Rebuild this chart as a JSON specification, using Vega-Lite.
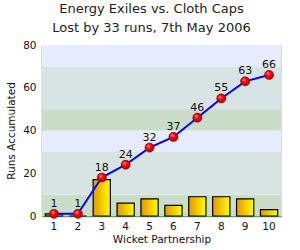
{
  "$schema": "https://vega.github.io/schema/vega-lite/v6.json",
  "width": 300,
  "height": 250,
  "autosize": {"type": "fit", "contains": "padding"},
  "padding": {"left": 6, "right": 19, "top": 3, "bottom": 5},
  "background": "white",
  "title": {
    "text": "Energy Exiles vs. Cloth Caps",
    "subtitle": "Lost by 33 runs, 7th May 2006",
    "font": "DejaVu Sans",
    "fontSize": 13,
    "fontWeight": "normal",
    "subtitleFont": "DejaVu Sans",
    "subtitleFontSize": 13,
    "color": "#222222",
    "subtitleColor": "#222222",
    "anchor": "middle",
    "subtitlePadding": 6,
    "offset": 5,
    "dx": -10
  },
  "config": {
    "view": {"stroke": "#dcdcdc", "strokeWidth": 1},
    "axis": {
      "labelFont": "DejaVu Sans",
      "titleFont": "DejaVu Sans",
      "labelFontSize": 10.5,
      "titleFontSize": 10.5,
      "titleFontWeight": "normal",
      "labelColor": "#111111",
      "titleColor": "#111111",
      "ticks": false,
      "domainColor": "#6b9b5e",
      "domainWidth": 1.5,
      "gridColor": "#dcdcdc",
      "gridWidth": 1,
      "zindex": 1
    }
  },
  "datasets": {
    "partnerships": [
      {"wicket": 1, "runs": 1, "total": 1},
      {"wicket": 2, "runs": 0, "total": 1},
      {"wicket": 3, "runs": 17, "total": 18},
      {"wicket": 4, "runs": 6, "total": 24},
      {"wicket": 5, "runs": 8, "total": 32},
      {"wicket": 6, "runs": 5, "total": 37},
      {"wicket": 7, "runs": 9, "total": 46},
      {"wicket": 8, "runs": 9, "total": 55},
      {"wicket": 9, "runs": 8, "total": 63},
      {"wicket": 10, "runs": 3, "total": 66}
    ],
    "bands": [
      {"from": 0, "to": 10, "shade": "green"},
      {"from": 10, "to": 30, "shade": "grey"},
      {"from": 30, "to": 40, "shade": "blue"},
      {"from": 40, "to": 50, "shade": "green"},
      {"from": 50, "to": 70, "shade": "grey"},
      {"from": 70, "to": 80, "shade": "blue"}
    ]
  },
  "layer": [
    {
      "data": {"name": "bands"},
      "mark": {"type": "rect"},
      "encoding": {
        "y": {
          "field": "from",
          "type": "quantitative",
          "title": "Runs Accumulated",
          "scale": {"domain": [0, 80], "nice": false},
          "axis": {
            "values": [0, 10, 20, 30, 40, 50, 60, 70, 80],
            "labelExpr": "datum.value % 20 == 0 ? datum.label : ''",
            "grid": true,
            "labelPadding": 6,
            "titlePadding": 6
          }
        },
        "y2": {"field": "to"},
        "fill": {
          "field": "shade",
          "type": "nominal",
          "legend": null,
          "scale": {"domain": ["green", "grey", "blue"], "range": ["#c9ddc9", "#d8e4e4", "#e6ecfd"]}
        }
      }
    },
    {
      "data": {"name": "partnerships"},
      "layer": [
        {
          "mark": {
            "type": "bar",
            "width": {"band": 0.72},
            "stroke": "black",
            "strokeWidth": 1.2,
            "color": {
              "gradient": "linear",
              "x1": 0, "y1": 0, "x2": 1, "y2": 0,
              "stops": [
                {"offset": 0, "color": "#e49600"},
                {"offset": 1, "color": "#ffff00"}
              ]
            }
          },
          "encoding": {
            "x": {
              "field": "wicket",
              "type": "ordinal",
              "title": "Wicket Partnership",
              "scale": {"paddingInner": 0, "paddingOuter": 0},
              "axis": {"labelAngle": 0, "grid": true, "bandPosition": 0, "labelPadding": 5, "titlePadding": 3}
            },
            "y": {"field": "runs", "type": "quantitative", "title": "Runs Accumulated"}
          }
        },
        {
          "mark": {"type": "line", "color": "#0000ff", "strokeWidth": 2},
          "encoding": {
            "x": {"field": "wicket", "type": "ordinal", "title": "Wicket Partnership"},
            "y": {"field": "total", "type": "quantitative", "title": "Runs Accumulated"}
          }
        },
        {
          "mark": {
            "type": "point",
            "filled": true,
            "size": 85,
            "opacity": 1,
            "stroke": "#8a0000",
            "strokeWidth": 0.5,
            "fill": {
              "gradient": "radial",
              "x1": 0.35, "y1": 0.3, "r1": 0,
              "x2": 0.5, "y2": 0.5, "r2": 0.55,
              "stops": [
                {"offset": 0, "color": "#ffb8b8"},
                {"offset": 0.35, "color": "#ff1414"},
                {"offset": 1, "color": "#9a0000"}
              ]
            }
          },
          "encoding": {
            "x": {"field": "wicket", "type": "ordinal", "title": "Wicket Partnership"},
            "y": {"field": "total", "type": "quantitative", "title": "Runs Accumulated"}
          }
        },
        {
          "mark": {"type": "text", "font": "DejaVu Sans", "fontSize": 11, "color": "#111111", "baseline": "middle", "dy": -10},
          "encoding": {
            "x": {"field": "wicket", "type": "ordinal", "title": "Wicket Partnership"},
            "y": {"field": "total", "type": "quantitative", "title": "Runs Accumulated"},
            "text": {"field": "total", "type": "quantitative"}
          }
        }
      ]
    }
  ]
}
